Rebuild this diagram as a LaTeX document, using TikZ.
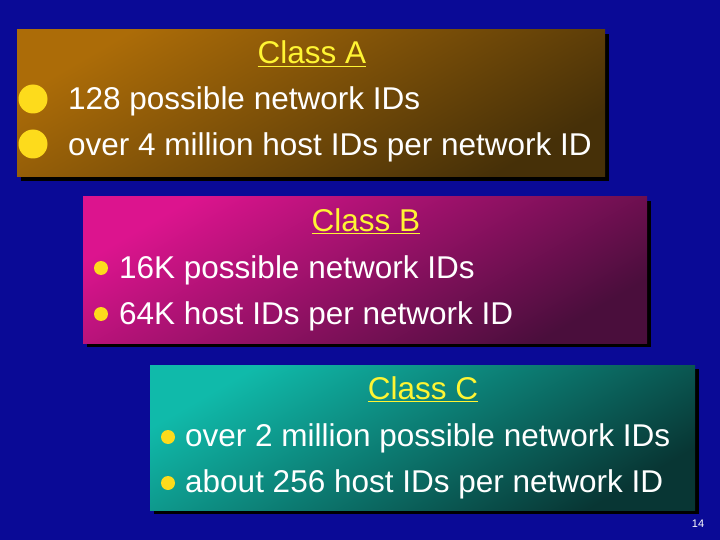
\documentclass[tikz,border=0pt]{standalone}
\usepackage{fontspec}
\setmainfont{Liberation Sans}
\begin{document}
\begin{tikzpicture}[x=1pt,y=-1pt,
  txt/.style={text=white,font=\fontsize{31.5}{36}\selectfont,anchor=base west,inner sep=0pt},
  ttl/.style={text=yellow!80!white,font=\fontsize{31.5}{36}\selectfont,anchor=base,inner sep=0pt},
  bigdot/.style={circle,fill=yellow!75!orange!90!white,inner sep=0pt,minimum size=29pt},
  dot/.style={circle,fill=yellow!75!orange!90!white,inner sep=0pt,minimum size=14pt},
  boxshadow/.style={fill=black,draw=none}]
\definecolor{bg}{HTML}{0A0A96}
\definecolor{aL}{HTML}{AC6C08}\definecolor{aD}{HTML}{463008}
\definecolor{bL}{HTML}{DC148E}\definecolor{bD}{HTML}{4A0E3C}
\definecolor{cL}{HTML}{10BAAA}\definecolor{cD}{HTML}{083634}
\useasboundingbox (0,0) rectangle (720,540);
\fill[bg] (0,0) rectangle (720,540);
% Class A box
\fill[boxshadow] (21,34) rectangle (609,181);
\shade[top color=aL, bottom color=aD, shading angle=30] (17,30) rectangle (605,177);
\node[bigdot] (a1) at (33,99) {};
\node[bigdot] (a2) at (33,144) {};
\node[txt] (ta1) at (68,110) {128 possible network IDs};
\node[txt] (ta2) at (68,156) {over 4 million host IDs per network ID};
\node[ttl] (tA) at (312,64) {\underline{Class A}};
% Class B box
\fill[boxshadow] (87,201) rectangle (651,347);
\shade[top color=bL, bottom color=bD, shading angle=30] (83,197) rectangle (647,343);
\node[dot] (b1) at (101,268) {};
\node[dot] (b2) at (101,314) {};
\node[txt] (tb1) at (119,278) {16K possible network IDs};
\node[txt] (tb2) at (119,324) {64K host IDs per network ID};
\node[ttl] (tB) at (366,231) {\underline{Class B}};
% Class C box
\fill[boxshadow] (154,369) rectangle (699,514);
\shade[top color=cL, bottom color=cD, shading angle=30] (150,365) rectangle (695,510);
\node[dot] (c1) at (168,437) {};
\node[dot] (c2) at (168,483) {};
\node[txt] (tc1) at (185,446) {over 2 million possible network IDs};
\node[txt] (tc2) at (185,492) {about 256 host IDs per network ID};
\node[ttl] (tC) at (423,399) {\underline{Class C}};
\node[text=white,font=\fontsize{11}{12}\selectfont,anchor=base] (pg) at (698,527) {14};
\end{tikzpicture}
\end{document}
